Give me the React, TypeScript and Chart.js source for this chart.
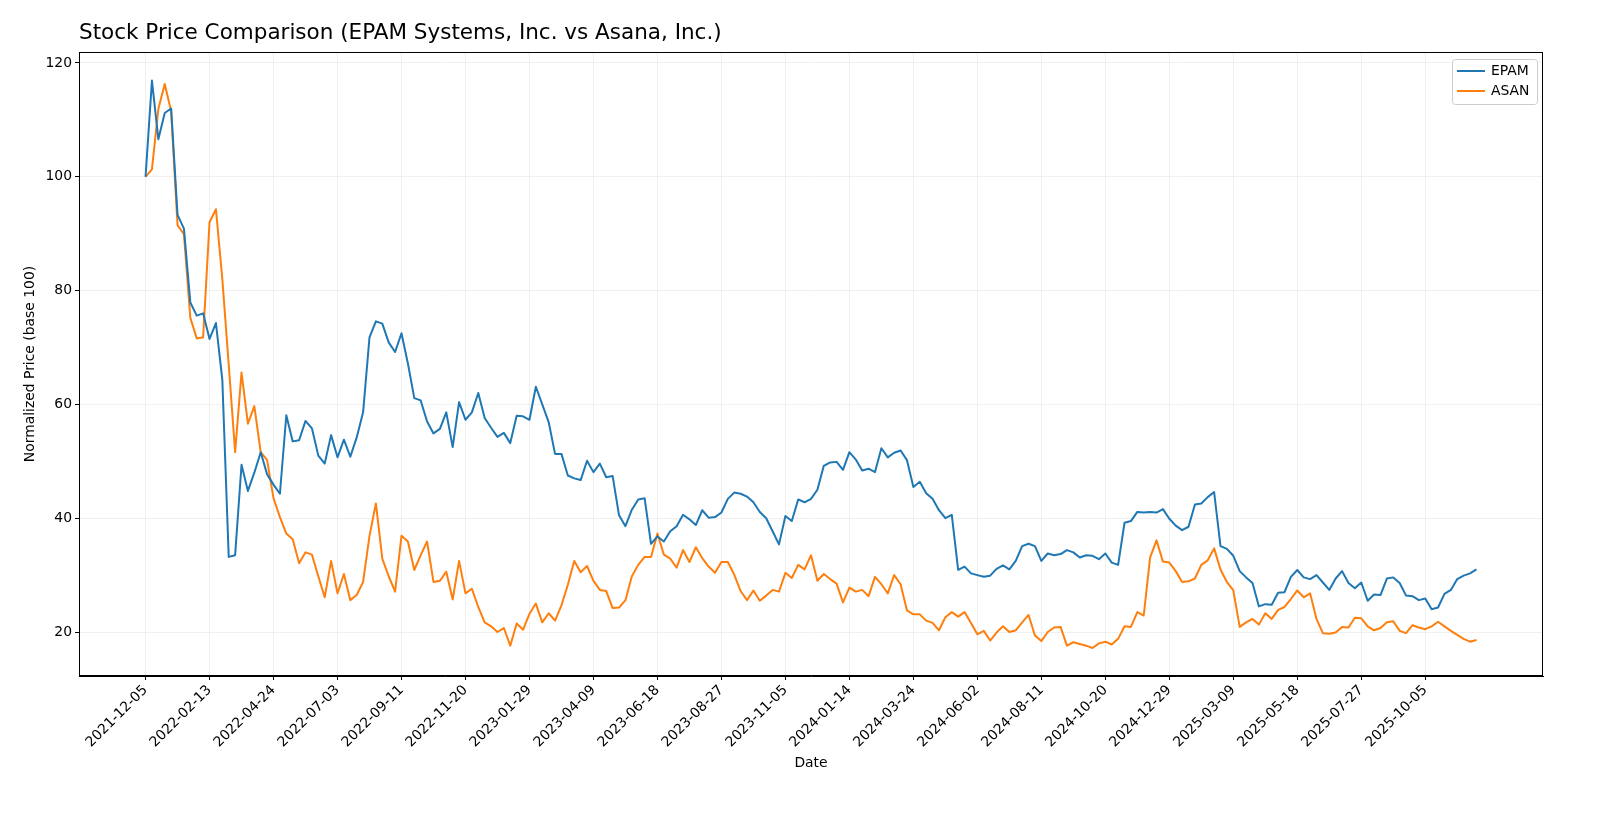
import React, { useEffect, useRef } from 'react';
import Chart from 'chart.js/auto';

// weekly closes, normalised to 100 on 2021-12-05
const tickLabels = [
    '2021-12-05', '2022-02-13', '2022-04-24', '2022-07-03', '2022-09-11', '2022-11-20',
    '2023-01-29', '2023-04-09', '2023-06-18', '2023-08-27', '2023-11-05', '2024-01-14',
    '2024-03-24', '2024-06-02', '2024-08-11', '2024-10-20', '2024-12-29', '2025-03-09',
    '2025-05-18', '2025-07-27', '2025-10-05',
];

const epam = [
    100, 116.9, 106.6, 111.2, 112.0, 93.3, 90.9, 77.9, 75.6, 76.0,
    71.5, 74.3, 64.3, 33.2, 33.5, 49.4, 44.8, 48.0, 51.6, 47.7,
    45.9, 44.3, 58.1, 53.5, 53.7, 57.1, 55.8, 51.0, 49.6, 54.6,
    50.7, 53.8, 50.8, 54.2, 58.6, 71.8, 74.6, 74.2, 70.9, 69.2,
    72.5, 67.2, 61.1, 60.7, 57.0, 54.9, 55.7, 58.6, 52.5, 60.4,
    57.3, 58.6, 62.0, 57.6, 55.9, 54.3, 55.0, 53.2, 58.0, 57.9,
    57.3, 63.1, 60.0, 56.9, 51.3, 51.3, 47.5, 47.0, 46.7, 50.1,
    48.1, 49.6, 47.2, 47.4, 40.5, 38.6, 41.5, 43.3, 43.5, 35.5,
    36.8, 35.9, 37.7, 38.6, 40.6, 39.8, 38.8, 41.4, 40.1, 40.2,
    41.0, 43.4, 44.5, 44.3, 43.8, 42.8, 41.1, 40.0, 37.7, 35.4,
    40.4, 39.5, 43.3, 42.8, 43.4, 45.0, 49.2, 49.8, 49.9, 48.5,
    51.6, 50.3, 48.4, 48.7, 48.1, 52.3, 50.7, 51.5, 51.9, 50.2,
    45.5, 46.4, 44.4, 43.4, 41.4, 40.0, 40.6, 30.9, 31.5, 30.3,
    30.0, 29.7, 29.9, 31.1, 31.7, 31.0, 32.5, 35.1, 35.5, 35.1,
    32.5, 33.8, 33.5, 33.7, 34.4, 34.0, 33.1, 33.5, 33.4, 32.8,
    33.8, 32.2, 31.8, 39.2, 39.5, 41.1, 41.0, 41.1, 41.0, 41.6,
    39.9, 38.7, 37.9, 38.5, 42.4, 42.6, 43.7, 44.6, 35.1, 34.6,
    33.4, 30.7, 29.6, 28.6, 24.5, 24.9, 24.8, 26.9, 27.0, 29.7,
    30.9, 29.6, 29.3, 30.0, 28.7, 27.4, 29.4, 30.7, 28.6, 27.7,
    28.7, 25.5, 26.6, 26.5, 29.4, 29.6, 28.6, 26.4, 26.3, 25.6,
    25.9, 24.0, 24.3, 26.7, 27.4, 29.3, 29.9, 30.3, 31.0,
];

const asan = [
    100, 101.3, 111.9, 116.3, 111.5, 91.5, 89.9, 75.2, 71.6, 71.8,
    92.0, 94.3, 82.0, 67.0, 51.6, 65.6, 56.6, 59.7, 51.6, 50.2,
    43.5, 40.2, 37.3, 36.3, 32.1, 34.0, 33.6, 29.8, 26.1, 32.5,
    26.8, 30.2, 25.6, 26.5, 28.8, 36.9, 42.6, 32.9, 29.8, 27.1,
    36.9, 35.9, 30.9, 33.5, 35.9, 28.8, 29.0, 30.6, 25.7, 32.5,
    26.8, 27.6, 24.4, 21.7, 21.0, 20.0, 20.7, 17.6, 21.5, 20.4,
    23.2, 25.0, 21.7, 23.3, 22.0, 24.7, 28.3, 32.5, 30.5, 31.6,
    29.0, 27.4, 27.2, 24.2, 24.3, 25.6, 29.8, 31.8, 33.2, 33.2,
    37.3, 33.6, 32.9, 31.3, 34.4, 32.3, 34.9, 33.0, 31.5, 30.4,
    32.3, 32.3, 30.1, 27.2, 25.6, 27.3, 25.5, 26.4, 27.4, 27.1,
    30.4, 29.5, 31.8, 31.0, 33.5, 29.0, 30.2, 29.3, 28.5, 25.2,
    27.8, 27.1, 27.4, 26.3, 29.7, 28.4, 26.8, 30.0, 28.4, 23.8,
    23.1, 23.1, 22.0, 21.6, 20.3, 22.6, 23.5, 22.7, 23.5, 21.6,
    19.6, 20.2, 18.5, 19.9, 21.0, 20.0, 20.3, 21.7, 23.0, 19.4,
    18.4, 20.0, 20.8, 20.9, 17.6, 18.2, 17.9, 17.6, 17.2, 18.0,
    18.3, 17.8, 18.8, 21.0, 20.9, 23.5, 22.9, 33.1, 36.1, 32.4,
    32.2, 30.7, 28.8, 28.9, 29.4, 31.8, 32.6, 34.7, 31.0, 28.8,
    27.3, 20.9, 21.7, 22.3, 21.3, 23.3, 22.3, 23.9, 24.4, 25.8,
    27.3, 26.1, 26.8, 22.3, 19.8, 19.7, 19.9, 20.9, 20.8, 22.5,
    22.4, 21.0, 20.3, 20.7, 21.7, 21.9, 20.2, 19.8, 21.2, 20.8,
    20.5, 21.0, 21.8, 21.0, 20.2, 19.5, 18.8, 18.3, 18.6,
];

const yTicks = [20, 40, 60, 80, 100, 120];

const FONT = '"DejaVu Sans", sans-serif';
const BLUE = '#1f77b4';
const ORANGE = '#ff7f0e';

// matplotlib-ish frame, title, axis labels and legend
const decorations = {
    id: 'decorations',
    afterDraw(chart: Chart) {
        const { ctx, chartArea: a } = chart;
        ctx.save();
        ctx.strokeStyle = '#000';
        ctx.lineWidth = 1;
        ctx.strokeRect(a.left + 0.5, a.top + 0.5, a.right - a.left - 1, a.bottom - a.top - 1);

        ctx.fillStyle = '#000';
        ctx.textBaseline = 'middle';
        ctx.textAlign = 'left';
        ctx.font = `21.5px ${FONT}`;
        ctx.fillText('Stock Price Comparison (EPAM Systems, Inc. vs Asana, Inc.)', a.left, 33);

        ctx.font = `13.9px ${FONT}`;
        ctx.textAlign = 'center';
        ctx.fillText('Date', (a.left + a.right) / 2, 763);
        ctx.save();
        ctx.translate(30, (a.top + a.bottom) / 2);
        ctx.rotate(-Math.PI / 2);
        ctx.fillText('Normalized Price (base 100)', 0, 0);
        ctx.restore();

        // legend box
        const bx = a.right - 91, by = a.top + 7, bw = 85, bh = 45;
        ctx.beginPath();
        ctx.roundRect(bx + 0.5, by + 0.5, bw, bh, 3);
        ctx.fillStyle = 'rgba(255,255,255,0.8)';
        ctx.fill();
        ctx.strokeStyle = '#cccccc';
        ctx.stroke();
        const items: [string, string][] = [['EPAM', BLUE], ['ASAN', ORANGE]];
        items.forEach(([name, color], k) => {
            const yy = by + 12 + k * 20;
            ctx.beginPath();
            ctx.moveTo(bx + 5, yy);
            ctx.lineTo(bx + 33, yy);
            ctx.strokeStyle = color;
            ctx.lineWidth = 2;
            ctx.stroke();
            ctx.fillStyle = '#000';
            ctx.textAlign = 'left';
            ctx.fillText(name, bx + 39, yy);
        });
        ctx.restore();
    },
};

const App: React.FC = () => {
    const canvasRef = useRef<HTMLCanvasElement | null>(null);

    useEffect(() => {
        if (!canvasRef.current) return;
        const toPoints = (arr: number[]) => arr.map((v, i) => ({ x: i, y: v }));
        const chart = new Chart(canvasRef.current, {
            type: 'line',
            data: {
                datasets: [
                    { label: 'EPAM', data: toPoints(epam), borderColor: BLUE, borderWidth: 2, pointRadius: 0, borderJoinStyle: 'round' },
                    { label: 'ASAN', data: toPoints(asan), borderColor: ORANGE, borderWidth: 2, pointRadius: 0, borderJoinStyle: 'round' },
                ],
            },
            options: {
                animation: false,
                responsive: false,
                devicePixelRatio: 1,
                layout: { padding: { top: 52, right: 77, left: 0, bottom: 0 } },
                plugins: {
                    legend: { display: false },
                    title: { display: false },
                    tooltip: { enabled: false },
                },
                scales: {
                    x: {
                        type: 'linear',
                        min: -10.4,
                        max: 218.4,
                        afterBuildTicks: (s: any) => {
                            s.ticks = tickLabels.map((_, k) => ({ value: k * 10 }));
                        },
                        afterFit: (s: any) => {
                            s.height = 143;
                        },
                        ticks: {
                            autoSkip: false,
                            minRotation: 45,
                            maxRotation: 45,
                            padding: 2,
                            color: '#000',
                            font: { family: FONT, size: 13.9 },
                            callback: (v: any) => tickLabels[Math.round(Number(v) / 10)] ?? '',
                        },
                        grid: { color: 'rgba(0,0,0,0.06)', tickColor: '#000', tickLength: 4 },
                        border: { display: true, color: '#000' },
                    },
                    y: {
                        type: 'linear',
                        min: 12.27,
                        max: 121.93,
                        afterBuildTicks: (s: any) => {
                            s.ticks = yTicks.map(v => ({ value: v }));
                        },
                        afterFit: (s: any) => {
                            s.width = 79;
                        },
                        ticks: {
                            padding: 3,
                            color: '#000',
                            font: { family: FONT, size: 13.9 },
                            callback: (v: any) => String(v),
                        },
                        grid: { color: 'rgba(0,0,0,0.06)', tickColor: '#000', tickLength: 4 },
                        border: { display: true, color: '#000' },
                    },
                },
            },
            plugins: [decorations],
        });
        return () => chart.destroy();
    }, []);

    return (
        <div style={{ position: 'fixed', left: 0, top: 0, width: 1620, height: 819, overflow: 'hidden', background: '#fff' }}>
            <canvas ref={canvasRef} width={1620} height={819} style={{ display: 'block' }} />
        </div>
    );
};

export default App;
